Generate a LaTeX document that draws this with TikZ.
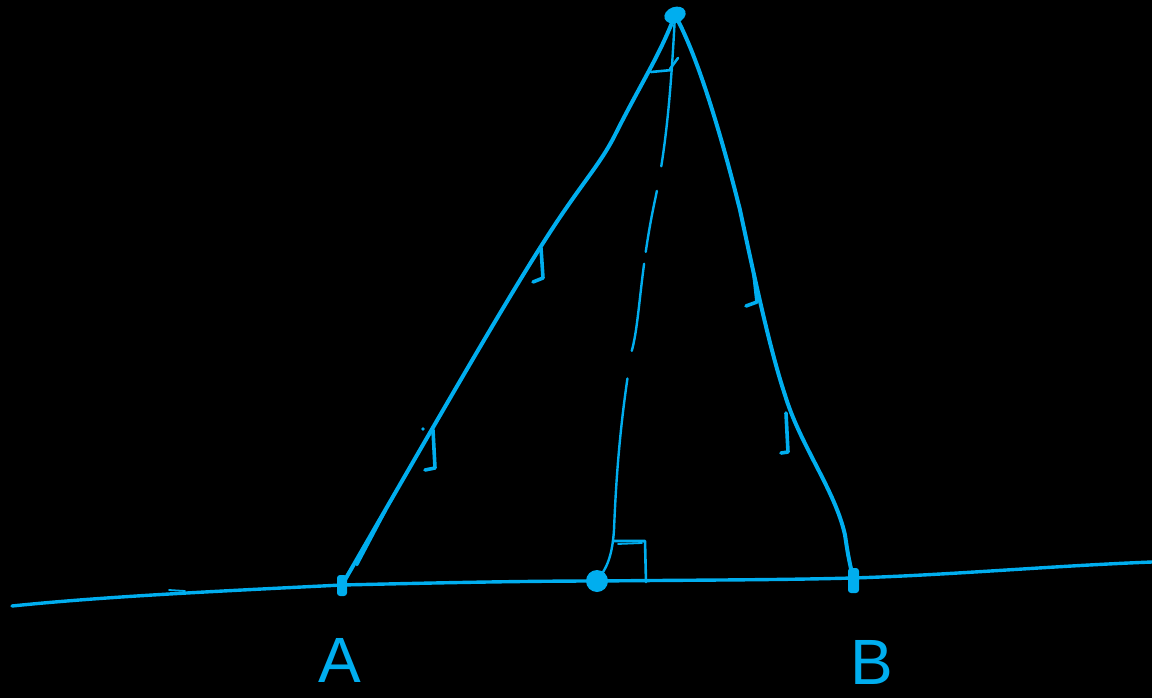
\documentclass[tikz,border=0pt]{standalone}
\usepackage{fontspec}
\setmainfont{Liberation Sans}
\definecolor{sk}{RGB}{0,174,239}
\begin{document}
\begin{tikzpicture}[x=1pt,y=-1pt,
  pen/.style={draw=sk,line width=4pt,line cap=round,line join=round},
  thinpen/.style={draw=sk,line width=2.6pt,line cap=round,line join=round},
  dashpen/.style={draw=sk,line width=2.4pt,line cap=round},
  lbl/.style={text=sk,font=\fontsize{64}{64}\selectfont,inner sep=0pt}]
\fill[black] (0,0) rectangle (1152,698);
\useasboundingbox (0,0) rectangle (1152,698);
% key points
\coordinate (A) at (342,585);
\coordinate (B) at (853,578);
\coordinate (F) at (597,581);
\coordinate (P) at (675,15);
\coordinate (L0) at (12,606);
\coordinate (R0) at (1152,562);
% base line
\draw[pen,line width=3.4pt] (L0) .. controls (100,597) and (200,592) .. (A)
  .. controls (430,583) and (520,581) .. (F)
  .. controls (700,580) and (780,580) .. (B)
  .. controls (950,575) and (1050,566) .. (R0);
% left side
\draw[pen] (A) .. controls (420,450) and (500,310) .. (545,240)
  .. controls (580,185) and (600,165) .. (615,135)
  .. controls (640,85) and (660,55) .. (P);
\draw[thinpen] (357,565) -- (386,510);
% right side
\draw[pen] (P) .. controls (700,60) and (725,150) .. (740,210)
  .. controls (755,280) and (770,350) .. (785,395)
  .. controls (800,445) and (835,490) .. (845,535)
  .. controls (848,555) .. (B);
% dashed altitude
\draw[dashpen,dash pattern=on 152pt off 25pt on 62pt off 12pt on 88pt off 28pt on 300pt off 0pt]
  (P) .. controls (672,70) and (668,140) .. (655,200)
  .. controls (640,270) and (640,320) .. (632,350)
  .. controls (620,420) and (616,480) .. (614,530)
  .. controls (612,560) and (605,570) .. (F);
% apex mark
\draw[thinpen] (651,72) -- (672,70);
\draw[thinpen] (678,58) -- (670,69);
% tick marks left side
\draw[thinpen,line width=3.6pt] (433,430) -- (435,468) -- (425,470);
\fill[sk] (423,429) circle (1.8pt);
\draw[thinpen,line width=3.6pt] (541,248) -- (543,278) -- (533,282);
% tick marks right side
\draw[thinpen,line width=3.6pt] (754,275) -- (757,302) -- (746,306);
\draw[thinpen,line width=3.6pt] (786,413) -- (788,452) -- (781,453);
% right angle
\draw[thinpen] (613,541) -- (645,541) -- (646,582);
\draw[thinpen,line width=1.8pt] (618,544) -- (642,543);
% points
\fill[sk,rotate around={20:(P)}] (P) ellipse (11pt and 8pt);
\fill[sk] (F) circle (11pt);
\fill[sk,rounded corners=3pt] (337,575) rectangle (347,596);
\fill[sk,rounded corners=3pt] (848,568) rectangle (859,593);
\draw[thinpen,line width=1.8pt] (169,590) -- (185,591);
% labels
\node[lbl] (la) at (340,660) {A};
\node[lbl] (lb) at (872,662) {B};
\end{tikzpicture}
\end{document}
